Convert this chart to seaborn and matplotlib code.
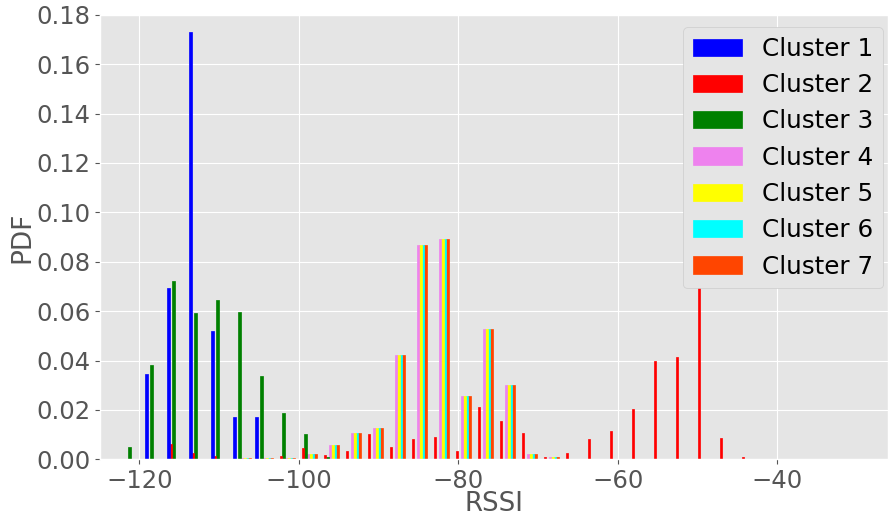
import numpy as np
import pandas as pd
import matplotlib
matplotlib.use("Agg")
import matplotlib.pyplot as plt
from matplotlib.patches import Patch
import seaborn as sns

# ---- data (density per RSSI bin) ----
bin_start = -125.08
bin_width = 2.760
n_bins = 36

clusters = ["Cluster 1", "Cluster 2", "Cluster 3", "Cluster 4",
            "Cluster 5", "Cluster 6", "Cluster 7"]
colors = ["blue", "red", "green", "violet", "yellow", "cyan", "orangered"]

# values by bin index (0..35); missing bins are 0
cluster1 = {2: 0.0346, 3: 0.0693, 4: 0.1730, 5: 0.0519, 6: 0.0171, 7: 0.0171}
cluster2 = {3: 0.0063, 4: 0.0027, 5: 0.0015, 8: 0.0013, 9: 0.0047, 10: 0.0017,
            11: 0.0034, 12: 0.0102, 13: 0.0050, 14: 0.0082, 15: 0.0090,
            16: 0.0034, 17: 0.0212, 18: 0.0155, 19: 0.0106, 20: 0.0009,
            21: 0.0026, 22: 0.0082, 23: 0.0115, 24: 0.0204, 25: 0.0398,
            26: 0.0414, 27: 0.1220, 28: 0.0086, 29: 0.0009}
cluster3 = {1: 0.0050, 2: 0.0382, 3: 0.0722, 4: 0.0592, 5: 0.0645, 6: 0.0596,
            7: 0.0337, 8: 0.0187, 9: 0.0102, 10: 0.0009}
cluster4 = {6: 0.0005, 7: 0.0005, 8: 0.0005, 9: 0.0021, 10: 0.0058,
            11: 0.0106, 12: 0.0127, 13: 0.0422, 14: 0.0868, 15: 0.0891,
            16: 0.0256, 17: 0.0527, 18: 0.0301, 19: 0.0021, 20: 0.0009}
cluster5 = dict(cluster4)
cluster6 = dict(cluster4)
cluster7 = dict(cluster4)
series = [cluster1, cluster2, cluster3, cluster4, cluster5, cluster6, cluster7]

edges = bin_start + bin_width * np.arange(n_bins + 1)
centers = (edges[:-1] + edges[1:]) / 2

rows = []
for name, vals in zip(clusters, series):
    for k in range(n_bins):
        rows.append({"RSSI": centers[k], "cluster": name, "w": vals.get(k, 0.0)})
df = pd.DataFrame(rows)

# ---- plot ----
plt.style.use("ggplot")
fig = plt.figure(figsize=(8.88, 5.17), dpi=100)
ax = fig.add_axes([100 / 888, (517 - 459.3) / 517, 788 / 888, 444.6 / 517])

sns.histplot(data=df, x="RSSI", hue="cluster", weights="w", bins=list(edges),
             hue_order=clusters, palette=dict(zip(clusters, colors)),
             multiple="dodge", shrink=0.8, stat="count", alpha=1,
             linewidth=0.5, legend=False, ax=ax)
for p in ax.patches:
    p.set_edgecolor(p.get_facecolor())

ax.set_xlim(-124.93, -26.1)
ax.set_ylim(0, 0.18)
ax.set_yticks(np.arange(0, 0.181, 0.02))
ax.set_xticks([-120, -100, -80, -60, -40])
ax.tick_params(labelsize=17.5, colors="#555555")
ax.set_xlabel("RSSI", fontsize=18.7, color="#555555", labelpad=-1.2)
ax.set_ylabel("PDF", fontsize=19, color="#555555", labelpad=0.5)

handles = [Patch(facecolor=c, edgecolor=c, linewidth=0.5, label=n)
           for n, c in zip(clusters, colors)]
ax.legend(handles=handles, loc="upper right", fontsize=17.7, framealpha=1,
          bbox_to_anchor=((883 - 100) / 788, (459.3 - 27) / 444.6),
          borderaxespad=0)

fig.savefig("out.png", dpi=100)
